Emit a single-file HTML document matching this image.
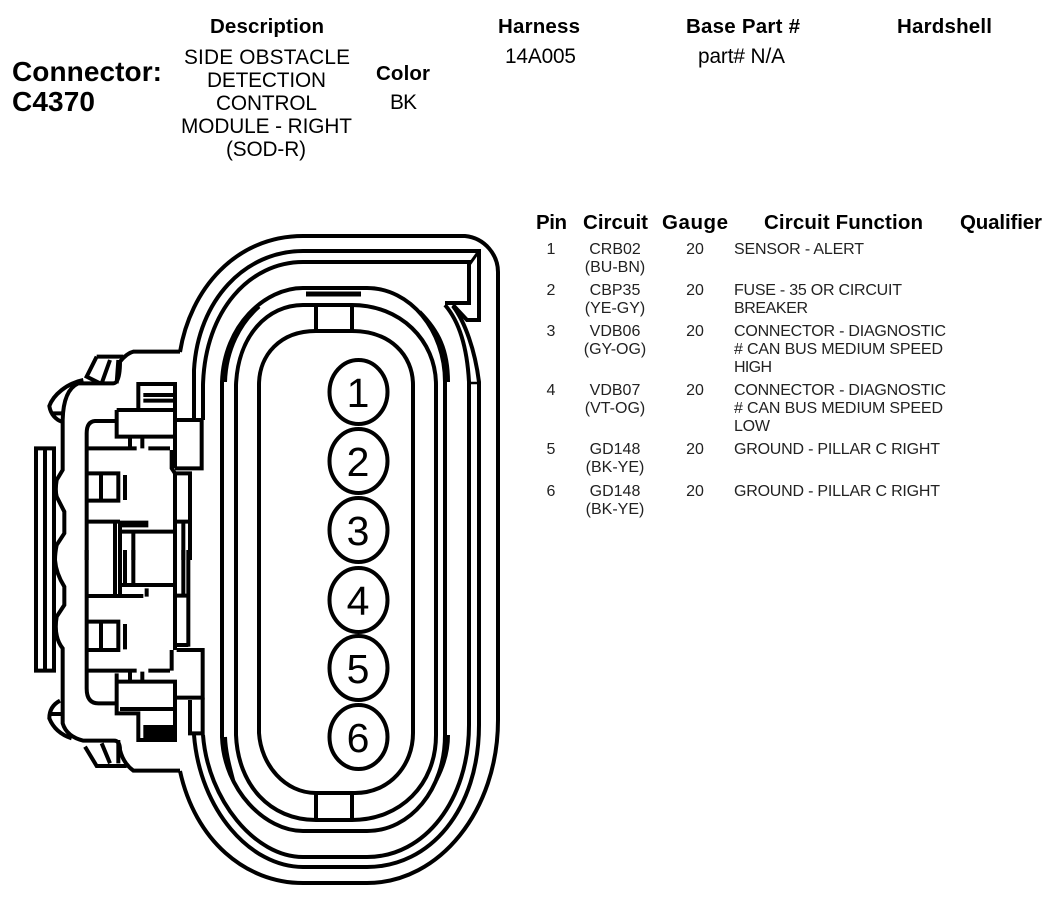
<!DOCTYPE html>
<html><head><meta charset="utf-8"><style>
html,body{margin:0;padding:0;background:#fff;width:1056px;height:898px;overflow:hidden}
svg{display:block}
text{font-family:"Liberation Sans",Arial,sans-serif;fill:#000}
.h{font-weight:bold;font-size:20.5px}
.d{font-size:20.8px}
.r{font-size:16px;fill:#222}
.n{font-size:41px}
</style></head><body>
<svg width="1056" height="898" viewBox="0 0 1056 898" xmlns="http://www.w3.org/2000/svg">
<text x="12" y="81" font-weight="bold" font-size="28" textLength="150" lengthAdjust="spacing">Connector:</text>
<text x="12" y="111" font-weight="bold" font-size="28" textLength="83" lengthAdjust="spacing">C4370</text>
<text class="h" x="210" y="33" textLength="114">Description</text>
<text class="d" x="184" y="64" textLength="166">SIDE OBSTACLE</text>
<text class="d" x="207" y="87" textLength="119">DETECTION</text>
<text class="d" x="216" y="110" textLength="101">CONTROL</text>
<text class="d" x="181" y="133" textLength="171">MODULE - RIGHT</text>
<text class="d" x="226" y="156" textLength="80">(SOD-R)</text>
<text class="h" x="376" y="80" textLength="54">Color</text>
<text class="d" x="390" y="109" textLength="27">BK</text>
<text class="h" x="498" y="33" textLength="82">Harness</text>
<text class="d" x="505" y="63" textLength="71">14A005</text>
<text class="h" x="686" y="33" textLength="114">Base Part #</text>
<text class="d" x="698" y="63" textLength="87">part# N/A</text>
<text class="h" x="897" y="33" textLength="95">Hardshell</text>
<text class="h" x="536" y="229" textLength="31">Pin</text>
<text class="h" x="583" y="229" textLength="65">Circuit</text>
<text class="h" x="662" y="229" textLength="66">Gauge</text>
<text class="h" x="764" y="229" textLength="159">Circuit Function</text>
<text class="h" x="960" y="229" textLength="82">Qualifier</text>

<g text-anchor="middle">
<text class="r" x="551" y="254">1</text><text class="r" x="615" y="254">CRB02</text><text class="r" x="615" y="272">(BU-BN)</text><text class="r" x="695" y="254">20</text>
<text class="r" x="551" y="295">2</text><text class="r" x="615" y="295">CBP35</text><text class="r" x="615" y="313">(YE-GY)</text><text class="r" x="695" y="295">20</text>
<text class="r" x="551" y="336">3</text><text class="r" x="615" y="336">VDB06</text><text class="r" x="615" y="354">(GY-OG)</text><text class="r" x="695" y="336">20</text>
<text class="r" x="551" y="395">4</text><text class="r" x="615" y="395">VDB07</text><text class="r" x="615" y="413">(VT-OG)</text><text class="r" x="695" y="395">20</text>
<text class="r" x="551" y="454">5</text><text class="r" x="615" y="454">GD148</text><text class="r" x="615" y="472">(BK-YE)</text><text class="r" x="695" y="454">20</text>
<text class="r" x="551" y="496">6</text><text class="r" x="615" y="496">GD148</text><text class="r" x="615" y="514">(BK-YE)</text><text class="r" x="695" y="496">20</text>
</g>
<text class="r" x="734" y="254" textLength="130">SENSOR - ALERT</text>
<text class="r" x="734" y="295" textLength="168">FUSE - 35 OR CIRCUIT</text>
<text class="r" x="734" y="313" textLength="74">BREAKER</text>
<text class="r" x="734" y="336" textLength="212">CONNECTOR - DIAGNOSTIC</text>
<text class="r" x="734" y="354" textLength="209"># CAN BUS MEDIUM SPEED</text>
<text class="r" x="734" y="372" textLength="38">HIGH</text>
<text class="r" x="734" y="395" textLength="212">CONNECTOR - DIAGNOSTIC</text>
<text class="r" x="734" y="413" textLength="209"># CAN BUS MEDIUM SPEED</text>
<text class="r" x="734" y="431" textLength="36">LOW</text>
<text class="r" x="734" y="454" textLength="206">GROUND - PILLAR C RIGHT</text>
<text class="r" x="734" y="496" textLength="206">GROUND - PILLAR C RIGHT</text>

<!-- rings -->
<g fill="none" stroke="#000" stroke-width="4">
<path d="M180,352 C190,290 235,236 303,236 H465 C485,238 498,255 498,272 V720 C498,810 440,883 367,883 H303 C245,883 195,840 180,771"/>
<path d="M194,420 V370 C198,300 245,251 303,251 H479 V320 H467 L453,305"/>
<path d="M203,420 V385 C205,310 250,262 303,262 H469 V303 H445"/>
<path d="M469,265 L479,251" stroke-width="3"/>
<path d="M445,305 C458,320 467,345 469,382 V725 C469,800 425,857 367,857 H303 C255,857 208,800 203,735"/>
<path d="M453,306 C465,322 475,350 479,382 V725 C479,810 430,867 367,867 H303 C250,867 200,810 194,735"/>
<path d="M469,383 H479" stroke-width="2.500"/>
<path d="M222,382 C224,325 265,288 303,288 H367 C410,288 445,330 445,382 V735 C445,790 410,831 367,831 H303 C265,831 224,790 222,737 Z"/>
<path d="M236,385 C238,335 268,305 303,305 H352 C400,305 436,340 436,385 V735 C436,785 400,820 352,820 H316 C270,820 238,785 236,735 Z"/>
<path d="M259,385 C259,355 280,331 316,331 H352 C390,331 413,355 413,385 V733 C413,765 390,793 355,793 H316 C285,793 261,765 259,733 Z"/>
<path d="M316,305 V331 M352,305 V331 M316,793 V820 M352,793 V820"/>
<path d="M306,294 H361" stroke-width="5"/>
<path d="M448,382 C448,350 438.500,331 419.500,311.800"/>
<path d="M225,382 C226,349 240.500,322.500 259.100,306.500"/>
<path d="M448,735 C448,752 443,767 436.300,780"/>
<path d="M225,737 C225.600,753 229.700,767 233.200,780.600"/>
</g>

<!-- pins -->
<g fill="#fff" stroke="#000" stroke-width="4">
<ellipse cx="358.500" cy="392" rx="29" ry="32"/>
<ellipse cx="358.500" cy="461" rx="29" ry="32"/>
<ellipse cx="358.500" cy="530" rx="29" ry="32"/>
<ellipse cx="358.500" cy="600" rx="29" ry="32"/>
<ellipse cx="358.500" cy="668" rx="29" ry="32"/>
<ellipse cx="358.500" cy="737" rx="29" ry="32"/>
</g>
<g text-anchor="middle">
<text class="n" x="358" y="407">1</text>
<text class="n" x="358" y="476">2</text>
<text class="n" x="358" y="545">3</text>
<text class="n" x="358" y="615">4</text>
<text class="n" x="358" y="683">5</text>
<text class="n" x="358" y="752">6</text>
</g>

<!-- left detail, upper -->
<g transform="translate(20,220) scale(.33333)" fill="none" stroke="#000" stroke-width="12">
<path d="M480,395 H340 Q320,400 300,425 Q300,490 280,490 H175 Q130,510 128,600 V750 L110,780 Q105,810 110,830 L133,875 V940 L110,975 Q105,1000 105,1020"/>
<path d="M230,410 H310 M230,410 L200,470 L240,490 M270,420 L245,490 M295,420 L290,490"/>
<path d="M190,480 C140,490 100,525 88,558 C92,585 110,600 125,605 M95,580 H128"/>
<path d="M48,1020 V685 H102 V1020 M75,685 V1020"/>
<path d="M200,1020 V640 Q200,605 225,603 H285"/>
<path d="M290,570 V650 H465 M290,570 H465 M355,570 V492 H465 V745 M370,525 H465 M370,542 H465"/>
<path d="M465,600 H545 V745 H465"/>
<path d="M205,685 H350 M385,685 H450 M330,650 V685 M367,650 V685"/>
<path d="M455,690 V745 L465,760 V1020 M465,760 H510 V1020 M465,905 H510 M490,905 V1020"/>
<path d="M205,760 H295 V842 H205 M243,760 V842 M315,765 V840"/>
<path d="M205,905 H300 M285,905 V1020 M300,905 V1020 M300,935 H465 M340,935 V1020"/>
<path d="M300,912 H385" stroke-width="20"/>
</g>
<!-- left detail, lower -->
<g transform="translate(20,550) scale(.33333)" fill="none" stroke="#000" stroke-width="12">
<path d="M105,30 Q108,70 133,110 V165 L110,200 Q100,260 128,295 V520 Q140,560 190,572 H280 Q300,570 300,600 Q310,640 340,662 H480"/>
<path d="M120,452 C95,465 88,485 88,505 C100,535 125,555 155,565 M92,492 H128"/>
<path d="M195,590 L230,648 H320 M245,580 L270,640 M295,570 V640"/>
<path d="M48,0 V362 H102 V0 M75,0 V362"/>
<path d="M200,0 V415 Q200,460 235,460 H285"/>
<path d="M205,138 H370 M285,0 V135 M300,0 V135 M315,0 V105 M340,0 V105 M305,105 H465 M380,115 V140"/>
<path d="M465,0 V300 M490,0 V135 M505,0 V290 M465,137 H505 M465,285 H505"/>
<path d="M205,215 H295 V300 H205 M243,215 V300 M315,222 V298"/>
<path d="M205,362 H350 M385,362 H450 M455,300 V362 M330,365 V395 M367,365 V395"/>
<path d="M470,300 H548 V443 H470"/>
<path d="M295,395 H465 V570 H355 V490 H290 V370 M300,477 H465"/>
<path d="M370,545 H465" stroke-width="40"/>
<path d="M510,450 V550 H548 V443"/>
</g>
</svg>
</body></html>
